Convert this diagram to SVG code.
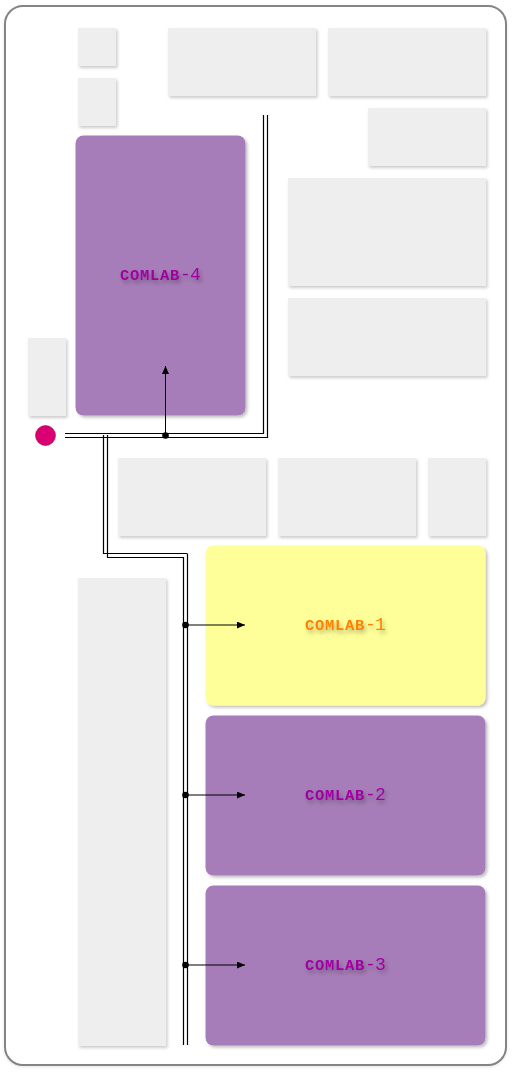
<svg xmlns="http://www.w3.org/2000/svg" width="514" height="1074" viewBox="0 0 514 1074">
<defs>
<filter id="sh" x="-20%" y="-20%" width="140%" height="140%"><feDropShadow dx="2" dy="2" stdDeviation="1.500" flood-color="#000" flood-opacity="0.25"/></filter>
<filter id="fr" x="-5%" y="-5%" width="110%" height="110%"><feDropShadow dx="0" dy="1" stdDeviation="1.500" flood-color="#000" flood-opacity="0.1"/></filter>
<filter id="soft" x="-20%" y="-20%" width="140%" height="140%"><feGaussianBlur stdDeviation="0.500" result="b"/><feDropShadow in="b" dx="1.500" dy="2" stdDeviation="1.500" flood-color="#000" flood-opacity="0.2"/></filter>
<filter id="ts" x="-20%" y="-60%" width="140%" height="220%"><feDropShadow dx="2" dy="3" stdDeviation="2" flood-color="#000" flood-opacity="0.3"/></filter>
<marker id="arr" markerUnits="userSpaceOnUse" markerWidth="10" markerHeight="8" refX="8" refY="3.500" orient="auto"><path d="M0 0L8 3.500L0 7Z" fill="#000"/></marker>
</defs>
<style>
.g{fill:#eeeeee;filter:url(#soft)}
.p{fill:#a67db8;filter:url(#sh)}
.y{fill:#ffff99;filter:url(#sh)}
.w{fill:none;stroke:#000;stroke-width:1.200}
.a{fill:none;stroke:#000;stroke-width:1;marker-end:url(#arr)}
.t{font-family:"Liberation Mono",monospace;font-size:18px;font-weight:400;letter-spacing:-0.800px;text-anchor:middle;filter:url(#ts)}
.b{font-size:15.500px;font-weight:700;letter-spacing:0.700px}
.tp{fill:#a000a0}
.to{fill:#ff8000}
</style>
<rect width="514" height="1074" fill="#fff"/>
<rect id="frame" x="5" y="6" width="501" height="1059" rx="18" fill="#fff" stroke="#848484" stroke-width="2" filter="url(#fr)"/>
<g id="room-1"><rect class="g" x="78" y="28" width="38" height="38"/></g>
<g id="room-2"><rect class="g" x="78" y="78" width="38" height="48"/></g>
<g id="room-3"><rect class="g" x="168" y="28" width="148" height="68"/></g>
<g id="room-4"><rect class="g" x="328" y="28" width="158" height="68"/></g>
<g id="room-5"><rect class="g" x="368" y="108" width="118" height="58"/></g>
<g id="room-6"><rect class="g" x="288" y="178" width="198" height="108"/></g>
<g id="room-7"><rect class="g" x="288" y="298" width="198" height="78"/></g>
<g id="room-8"><rect class="g" x="28" y="338" width="38" height="78"/></g>
<g id="room-9"><rect class="g" x="118" y="458" width="148" height="78"/></g>
<g id="room-10"><rect class="g" x="278" y="458" width="138" height="78"/></g>
<g id="room-11"><rect class="g" x="428" y="458" width="58" height="78"/></g>
<g id="room-12"><rect class="g" x="78" y="578" width="88" height="468"/></g>
<g id="comlab-4"><rect class="p" x="75.500" y="135.500" width="170" height="280" rx="8"/><text class="t tp" x="160" y="280"><tspan class="b">COMLAB</tspan>-4</text></g>
<g id="comlab-1"><rect class="y" x="205.500" y="545.500" width="280" height="160" rx="8"/><text class="t to" x="345" y="630"><tspan class="b">COMLAB</tspan>-1</text></g>
<g id="comlab-2"><rect class="p" x="205.500" y="715.500" width="280" height="160" rx="8"/><text class="t tp" x="345" y="800"><tspan class="b">COMLAB</tspan>-2</text></g>
<g id="comlab-3"><rect class="p" x="205.500" y="885.500" width="280" height="160" rx="8"/><text class="t tp" x="345" y="970"><tspan class="b">COMLAB</tspan>-3</text></g>
<g id="source"><circle cx="45.500" cy="435.500" r="10" fill="#d80073" stroke="#a50040" stroke-width="0.600"/></g>
<g id="connectors">
<path class="w" d="M65 433.500H263.500V115"/>
<path class="w" d="M65 437.500H267.500V115"/>
<path class="w" d="M103.500 435V553.500H187"/>
<path class="w" d="M107.500 435V557.500H183.500V1045"/>
<path class="w" d="M187.500 553.500V1045"/>
<path class="a" d="M165.500 435.500V366"/>
<path class="a" d="M185.500 625H245"/>
<path class="a" d="M185.500 795H245"/>
<path class="a" d="M185.500 965H245"/>
<circle cx="165.500" cy="435.500" r="3.300"/>
<circle cx="185.500" cy="625" r="3.300"/>
<circle cx="185.500" cy="795" r="3.300"/>
<circle cx="185.500" cy="965" r="3.300"/>
</g>
</svg>
